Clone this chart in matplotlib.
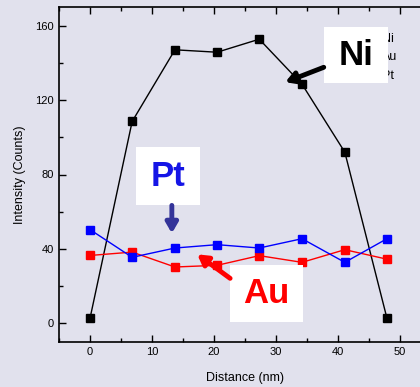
import matplotlib.pyplot as plt
from matplotlib.patches import Rectangle
from matplotlib.ticker import MultipleLocator

plt.rcParams['font.family'] = ['Liberation Sans', 'DejaVu Sans']

distance = [0, 6.8, 13.7, 20.5, 27.3, 34.2, 41.1, 47.9]
ni = [2.7, 108.5, 147, 145.7, 152.7, 128.5, 92, 2.7]
au = [36.5, 38.3, 30.3, 31.2, 36.4, 32.8, 39.6, 34.5]
pt = [50.4, 35.5, 40.5, 42.3, 40.5, 45.5, 32.8, 45.5]

bg = '#e1e1ed'
fig = plt.figure(figsize=(4.2, 3.87), dpi=100, facecolor=bg)
ax = fig.add_axes([59 / 420, 1 - 342 / 387, 372 / 420, 335 / 387])
ax.set_facecolor(bg)

ms = 6
ax.plot(distance, ni, 's-', color='black', lw=1, ms=ms, label='Ni')
ax.plot(distance, au, 's-', color='#ff0000', lw=1, ms=ms, label='Au')
ax.plot(distance, pt, 's-', color='#0000ff', lw=1, ms=ms, label='Pt')

ax.set_xlim(-5, 55)
ax.set_ylim(-10, 170)
ax.xaxis.set_major_locator(MultipleLocator(10))
ax.xaxis.set_minor_locator(MultipleLocator(5))
ax.yaxis.set_major_locator(MultipleLocator(40))
ax.yaxis.set_minor_locator(MultipleLocator(20))
ax.tick_params(which='both', direction='in', top=True, labelsize=8, width=1)
ax.tick_params(which='major', length=5)
ax.tick_params(which='minor', length=3)
for s in ax.spines.values():
    s.set_linewidth(1.2)
ax.spines['right'].set_visible(False)

ax.set_xlabel('Distance (nm)', fontsize=9, labelpad=11)
ax.set_ylabel('Intensity (Counts)', fontsize=9, labelpad=7)

leg = ax.legend(loc='upper left', bbox_to_anchor=(41.0, 156), bbox_transform=ax.transData,
                frameon=False, fontsize=9, handlelength=2.2, labelspacing=0.5,
                borderaxespad=0, borderpad=0)

# white label boxes with arrows
boxes = [
    ('Ni', 'black', (37.7, 129.0), 10.4, 30.1),
    ('Pt', '#1515e6', (7.4, 63.4), 10.3, 31.2),
    ('Au', '#ff0000', (22.6, 0.5), 11.8, 30.7),
]
for txt, col, (x0, y0), w, h in boxes:
    ax.add_patch(Rectangle((x0, y0), w, h, facecolor='white', edgecolor='none', zorder=6))
    ax.text(x0 + w / 2, y0 + h / 2, txt, color=col, fontsize=25, fontweight='bold',
            ha='center', va='center', zorder=7)

arrows = [
    ((37.7, 137.6), (31.5, 129.6), 'black'),
    ((13.2, 63.4), (13.2, 48.4), '#333399'),
    ((22.6, 24.2), (17.3, 37.1), '#ff0000'),
]
for tail, tip, col in arrows:
    ax.annotate('', xy=tip, xytext=tail, zorder=8,
                arrowprops=dict(arrowstyle='-|>,head_length=0.6,head_width=0.35',
                                color=col, lw=3.5, shrinkA=0, shrinkB=0))

fig.savefig('out.png', dpi=100, facecolor=bg)
